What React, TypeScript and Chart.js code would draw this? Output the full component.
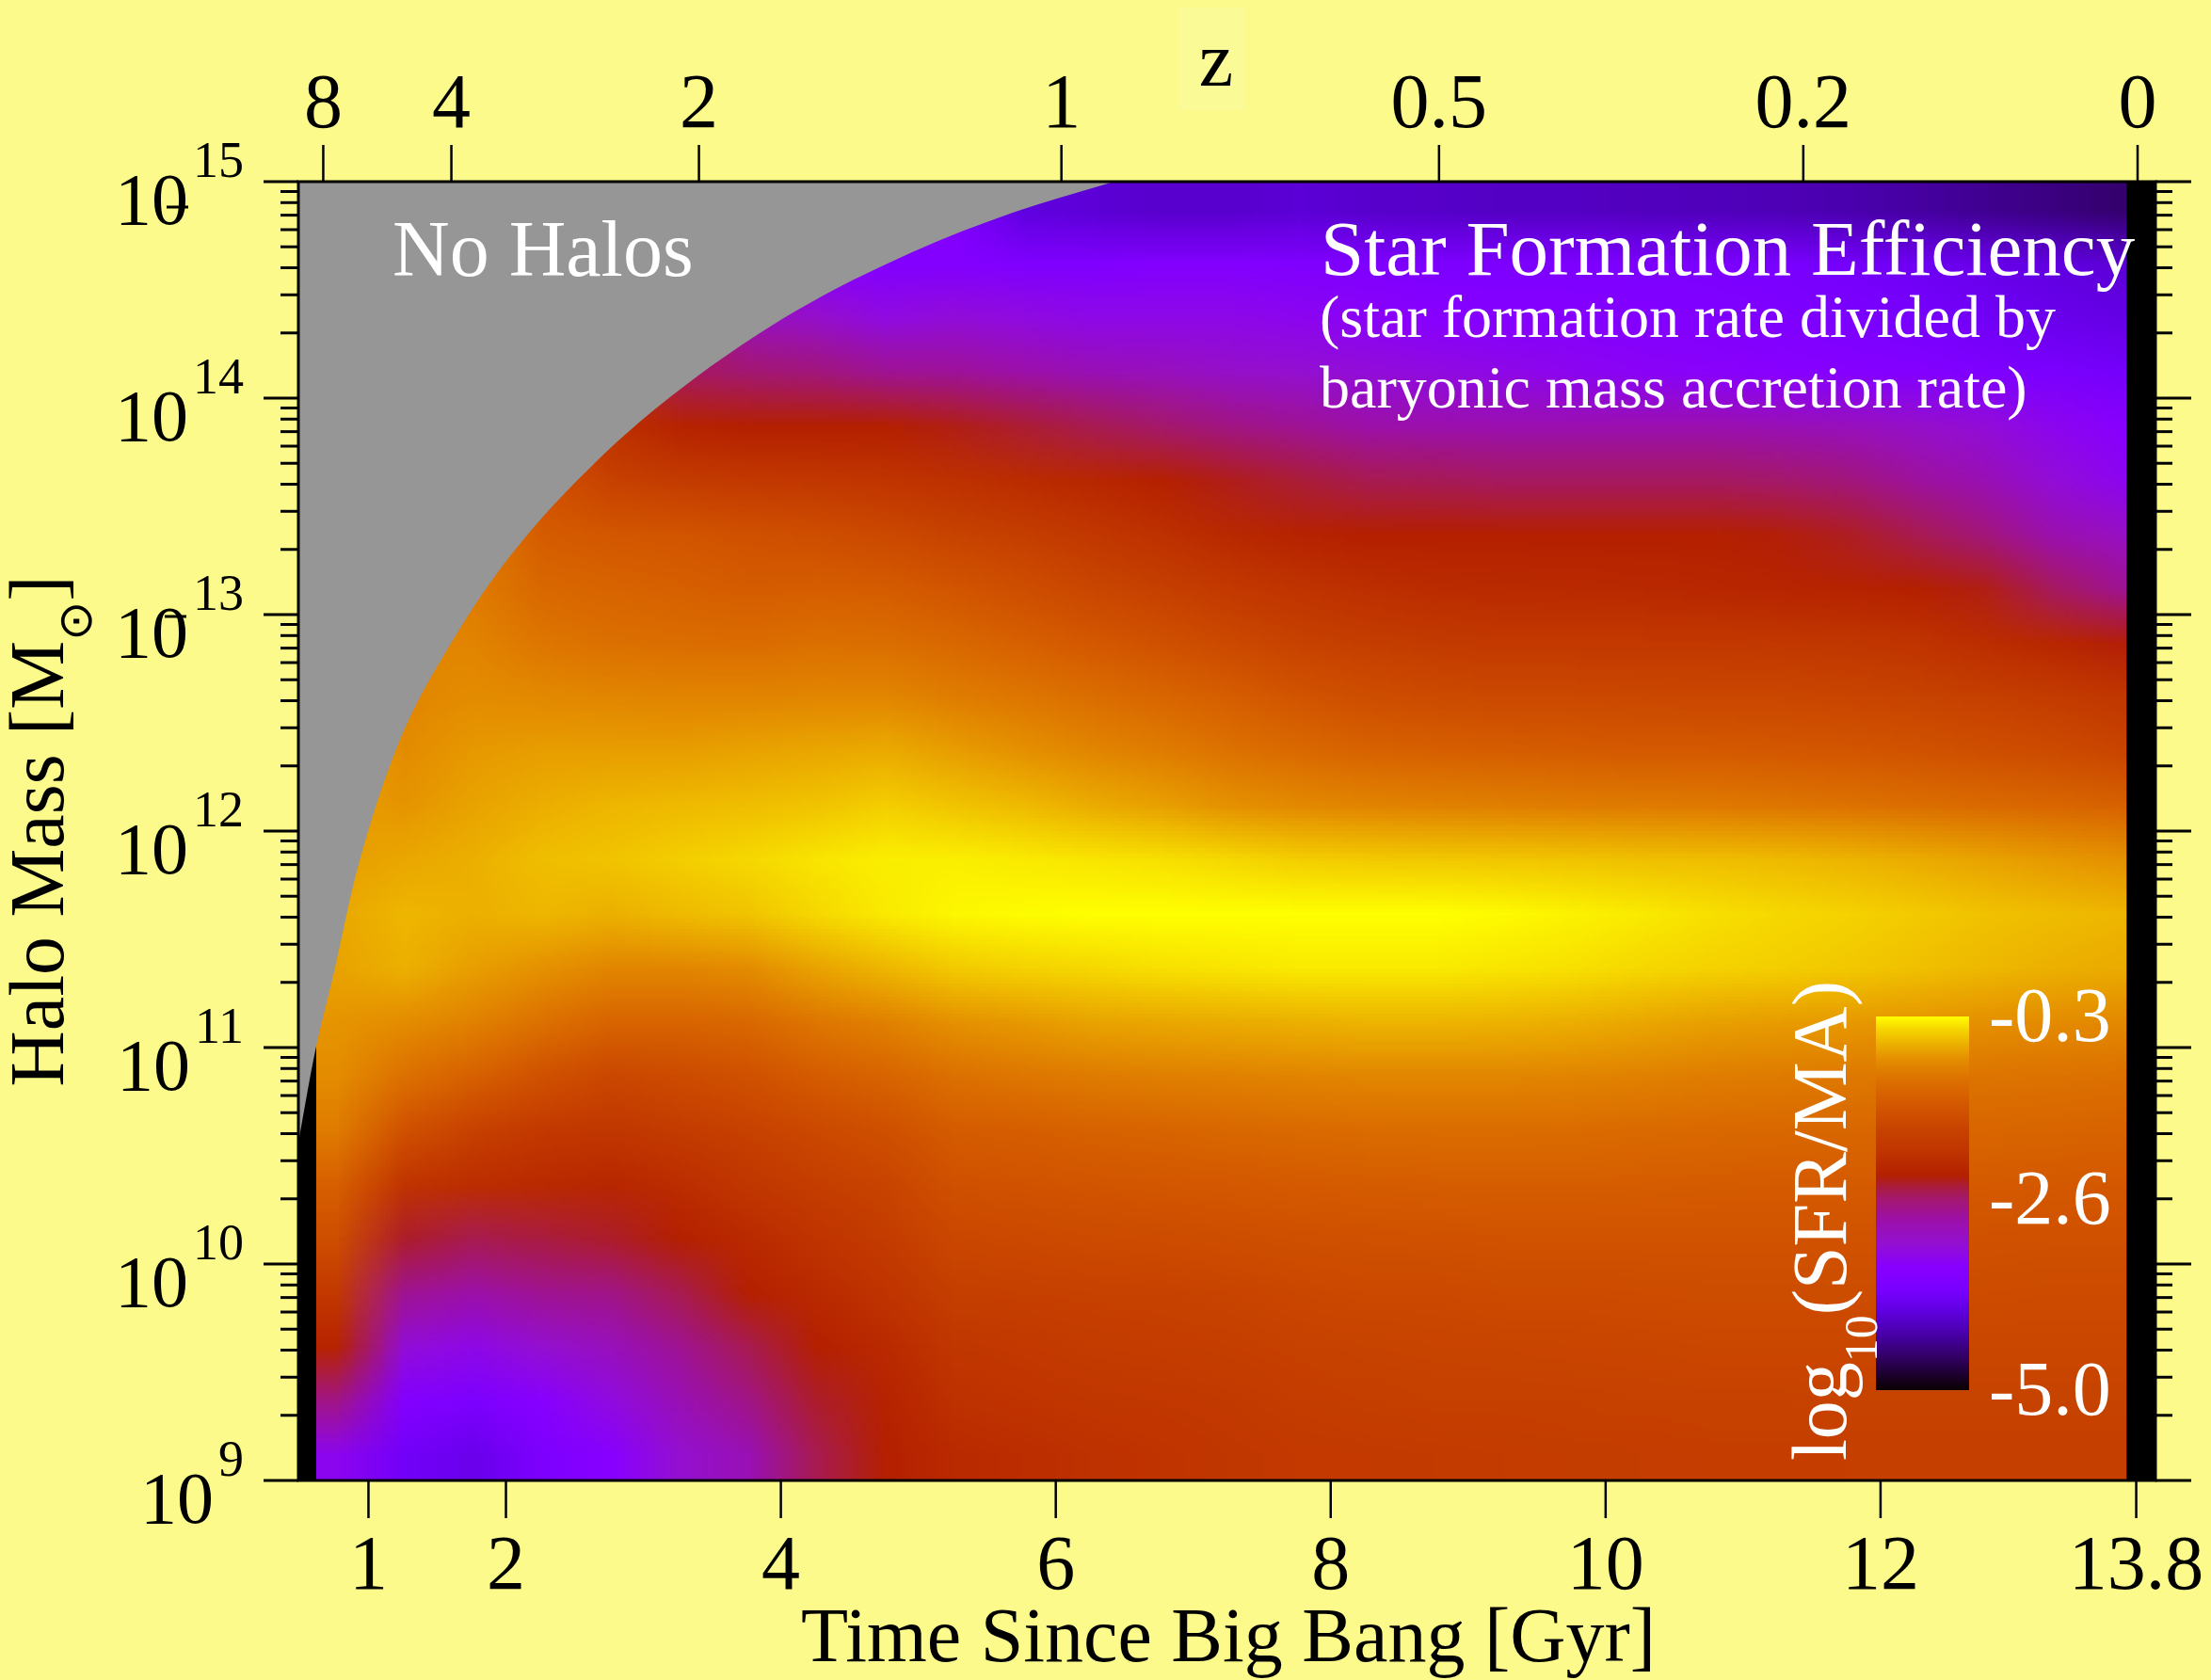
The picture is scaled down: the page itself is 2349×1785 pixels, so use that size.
import React, { useEffect, useRef } from 'react';
import { Chart, registerables } from 'chart.js';

Chart.register(...registerables);

const CANVAS_W = 2349;
const CANVAS_H = 1785;

// ---------------- data ----------------
// heat-map cell centres: time since Big Bang (Gyr), 0.5 Gyr wide cells
const timeCenters = [0.75, 1.25, 1.75, 2.25, 2.75, 3.25, 3.75, 4.25, 4.75, 5.25, 5.75, 6.25, 6.75, 7.25, 7.75, 8.25, 8.75, 9.25, 9.75, 10.25, 10.75, 11.25, 11.75, 12.25, 12.75, 13.25, 13.75];
const cellWidthGyr = 0.5;
// heat-map cell centres: log10 halo mass, 0.25 dex tall cells
const logMassCenters = [9.125, 9.375, 9.625, 9.875, 10.125, 10.375, 10.625, 10.875, 11.125, 11.375, 11.625, 11.875, 12.125, 12.375, 12.625, 12.875, 13.125, 13.375, 13.625, 13.875, 14.125, 14.375, 14.625, 14.875];
const cellHeightDex = 0.25;

const N = null;
// log10(SFR/MA); one list per time column, from low mass (10^9.125) to high mass (10^14.875); null = no halos
const sfeColumns = [
  [-3.35, -2.7, -2.25, -1.9, -1.55, -1.3, -1.0, -0.85, -0.8, -0.72, -0.7, -0.75, N, N, N, N, N, N, N, N, N, N, N, N],
  [-3.8, -3.55, -3.2, -2.75, -2.4, -2.0, -1.5, -1.1, -0.85, -0.65, -0.62, -0.7, -0.8, -0.85, -0.9, N, N, N, N, N, N, N, N, N],
  [-3.9, -3.65, -3.3, -2.85, -2.5, -2.1, -1.75, -1.3, -0.95, -0.75, -0.65, -0.65, -0.72, -0.78, -0.85, -0.92, -1.0, N, N, N, N, N, N, N],
  [-3.65, -3.45, -3.15, -2.75, -2.45, -2.15, -1.9, -1.5, -1.1, -0.82, -0.62, -0.58, -0.66, -0.75, -0.88, -1.05, -1.2, -1.35, -1.5, N, N, N, N, N],
  [-3.45, -3.25, -3.0, -2.7, -2.4, -2.2, -1.95, -1.65, -1.25, -0.9, -0.65, -0.55, -0.62, -0.75, -0.9, -1.1, -1.25, -1.42, -1.75, -2.05, N, N, N, N],
  [-3.15, -2.95, -2.75, -2.5, -2.3, -2.1, -1.85, -1.6, -1.25, -0.9, -0.6, -0.5, -0.6, -0.75, -0.92, -1.12, -1.3, -1.45, -1.85, -2.25, -2.55, N, N, N],
  [-2.95, -2.7, -2.5, -2.3, -2.15, -1.95, -1.75, -1.5, -1.2, -0.85, -0.55, -0.45, -0.58, -0.72, -0.92, -1.15, -1.35, -1.5, -1.9, -2.3, -2.6, -3.0, N, N],
  [-2.5, -2.4, -2.3, -2.15, -2.0, -1.82, -1.62, -1.35, -1.05, -0.72, -0.45, -0.4, -0.55, -0.7, -0.9, -1.1, -1.32, -1.55, -1.92, -2.3, -2.65, -3.1, -3.45, N],
  [-2.3, -2.25, -2.15, -2.0, -1.85, -1.7, -1.52, -1.25, -0.95, -0.62, -0.38, -0.36, -0.5, -0.68, -0.9, -1.12, -1.35, -1.62, -1.98, -2.3, -2.75, -3.25, -3.55, N],
  [-2.15, -2.05, -1.95, -1.8, -1.65, -1.5, -1.35, -1.1, -0.82, -0.52, -0.33, -0.36, -0.55, -0.75, -0.98, -1.2, -1.45, -1.72, -2.05, -2.35, -2.78, -3.2, -3.55, N],
  [-2.1, -2.0, -1.9, -1.78, -1.63, -1.48, -1.32, -1.05, -0.78, -0.48, -0.31, -0.38, -0.6, -0.82, -1.05, -1.3, -1.55, -1.82, -2.12, -2.42, -2.85, -3.25, -3.6, -4.0],
  [-2.05, -1.95, -1.85, -1.75, -1.6, -1.45, -1.28, -1.0, -0.72, -0.45, -0.3, -0.4, -0.67, -0.9, -1.13, -1.4, -1.67, -1.93, -2.2, -2.5, -2.95, -3.3, -3.6, -4.05],
  [-2.0, -1.92, -1.83, -1.73, -1.58, -1.42, -1.25, -0.97, -0.7, -0.42, -0.3, -0.42, -0.74, -0.98, -1.22, -1.5, -1.78, -2.05, -2.28, -2.58, -3.0, -3.3, -3.55, -4.1],
  [-1.95, -1.88, -1.8, -1.7, -1.55, -1.4, -1.2, -0.95, -0.67, -0.4, -0.3, -0.45, -0.82, -1.08, -1.33, -1.62, -1.9, -2.17, -2.36, -2.68, -3.1, -3.3, -3.55, -4.1],
  [-1.9, -1.83, -1.75, -1.65, -1.52, -1.37, -1.17, -0.92, -0.65, -0.38, -0.3, -0.5, -0.88, -1.18, -1.46, -1.74, -2.0, -2.26, -2.43, -2.76, -3.15, -3.35, -3.6, -4.05],
  [-1.88, -1.8, -1.72, -1.63, -1.5, -1.35, -1.15, -0.9, -0.63, -0.38, -0.3, -0.52, -0.92, -1.26, -1.55, -1.82, -2.08, -2.3, -2.5, -2.85, -3.2, -3.4, -3.62, -4.1],
  [-1.86, -1.78, -1.7, -1.62, -1.49, -1.34, -1.14, -0.9, -0.63, -0.38, -0.3, -0.53, -0.95, -1.3, -1.6, -1.87, -2.12, -2.3, -2.52, -2.88, -3.25, -3.45, -3.65, -4.12],
  [-1.85, -1.77, -1.69, -1.6, -1.48, -1.33, -1.14, -0.9, -0.64, -0.4, -0.32, -0.54, -0.97, -1.32, -1.62, -1.9, -2.14, -2.3, -2.55, -2.9, -3.3, -3.5, -3.65, -4.15],
  [-1.84, -1.76, -1.68, -1.59, -1.47, -1.33, -1.15, -0.92, -0.66, -0.42, -0.35, -0.55, -0.99, -1.35, -1.63, -1.9, -2.15, -2.3, -2.55, -2.9, -3.35, -3.5, -3.65, -4.15],
  [-1.83, -1.75, -1.67, -1.58, -1.47, -1.34, -1.17, -0.95, -0.7, -0.45, -0.38, -0.57, -1.0, -1.37, -1.64, -1.9, -2.17, -2.3, -2.55, -2.9, -3.4, -3.55, -3.65, -4.18],
  [-1.82, -1.74, -1.66, -1.57, -1.47, -1.35, -1.19, -0.98, -0.74, -0.48, -0.42, -0.58, -1.02, -1.38, -1.65, -1.9, -2.2, -2.3, -2.55, -2.9, -3.42, -3.58, -3.68, -4.2],
  [-1.81, -1.73, -1.65, -1.57, -1.47, -1.36, -1.2, -1.0, -0.76, -0.5, -0.45, -0.6, -1.05, -1.4, -1.66, -1.92, -2.22, -2.32, -2.58, -2.95, -3.45, -3.62, -3.72, -4.22],
  [-1.8, -1.72, -1.65, -1.57, -1.47, -1.36, -1.21, -1.02, -0.78, -0.53, -0.48, -0.63, -1.08, -1.43, -1.68, -1.95, -2.25, -2.38, -2.65, -3.0, -3.5, -3.68, -3.78, -4.27],
  [-1.8, -1.72, -1.65, -1.57, -1.48, -1.37, -1.22, -1.04, -0.8, -0.57, -0.52, -0.67, -1.12, -1.48, -1.72, -2.0, -2.3, -2.5, -2.8, -3.1, -3.55, -3.75, -3.85, -4.33],
  [-1.8, -1.72, -1.65, -1.58, -1.49, -1.38, -1.23, -1.06, -0.83, -0.61, -0.56, -0.72, -1.17, -1.53, -1.78, -2.1, -2.35, -2.65, -2.95, -3.2, -3.62, -3.82, -3.92, -4.4],
  [-1.8, -1.72, -1.66, -1.59, -1.5, -1.39, -1.24, -1.08, -0.86, -0.65, -0.59, -0.78, -1.22, -1.6, -1.85, -2.2, -2.55, -2.9, -3.2, -3.35, -3.7, -3.9, -4.0, -4.47],
  [-1.8, -1.72, -1.66, -1.6, -1.51, -1.4, -1.26, -1.1, -0.88, -0.68, -0.62, -0.82, -1.28, -1.68, -1.95, -2.32, -2.75, -3.05, -3.35, -3.45, -3.78, -3.95, -4.05, -4.55],
];
// time range actually covered by the model (black outside)
const heatmapStartGyr = 0.62;
const heatmapEndGyr = 13.79;

// upper edge of existing halos ("No Halos" above)
const boundaryTimes = [0.49, 0.605, 0.75, 0.916, 1.207, 1.622, 2.037, 2.66, 3.282, 4.113, 4.943, 5.7, 6.396];
const boundaryLogMass = [10.56, 10.96, 11.35, 11.817, 12.386, 12.89, 13.276, 13.709, 14.048, 14.404, 14.671, 14.86, 14.995];

// axes
const xMin = 0.49;
const xMax = 14.0;
const bottomTickValues = [1, 2, 4, 6, 8, 10, 12, 13.86];
const bottomTickLabels = ['1', '2', '4', '6', '8', '10', '12', '13.8'];
const topTickTimes = [0.671, 1.603, 3.404, 6.041, 8.788, 11.438, 13.87];
const topTickLabels = ['8', '4', '2', '1', '0.5', '0.2', '0'];
const massDecades = [9, 10, 11, 12, 13, 14, 15];
const minorMultipliers = [2, 3, 4, 5, 6, 7, 8, 9];

// colour bar
const colorMin = -5.0;
const colorMax = -0.3;
const colorbarTicks = [-0.3, -2.6, -5.0];
const colorbarLabels = ['-0.3', '-2.6', '-5.0'];
const cmapValues = [-5.0, -4.6, -4.3, -4.0, -3.75, -3.45, -3.15, -2.85, -2.6, -2.45, -2.3, -2.0, -1.7, -1.4, -1.1, -0.85, -0.65, -0.45, -0.3];
const cmapColors = ['#0a0000', '#300060', '#4800a8', '#6000e0', '#7800ff', '#8800ff', '#9410d0', '#9c10a8', '#a41870', '#aa1c40', '#b42000', '#c03400', '#c84400', '#d45800', '#dc7000', '#e48c00', '#ecb000', '#f6d800', '#ffff00'];

// ---------------- styles ----------------
const BG = '#FBFA8B';
const GRAY = '#969696';
const SERIF = '"Liberation Serif", "Times New Roman", "DejaVu Serif", serif';

function hexToRgb(h) {
  const n = parseInt(h.slice(1), 16);
  return [(n >> 16) & 255, (n >> 8) & 255, n & 255];
}
const cmapRgb = cmapColors.map(hexToRgb);

function colorFor(v) {
  if (v <= cmapValues[0]) return cmapRgb[0];
  const last = cmapValues.length - 1;
  if (v >= cmapValues[last]) return cmapRgb[last];
  for (let k = 0; k < last; k++) {
    const a = cmapValues[k], b = cmapValues[k + 1];
    if (v >= a && v <= b) {
      const f = (v - a) / (b - a);
      const c0 = cmapRgb[k], c1 = cmapRgb[k + 1];
      return [0, 1, 2].map((q) => Math.round(c0[q] + (c1[q] - c0[q]) * f));
    }
  }
  return cmapRgb[last];
}

function cellValue(i, j) {
  const col = sfeColumns[i];
  for (let k = j; k >= 0; k--) {
    if (col[k] !== null && col[k] !== undefined) return col[k];
  }
  return colorMin;
}

const heatmapPlugin = {
  id: 'heatmap',
  beforeDraw(chart) {
    const ctx = chart.ctx;
    ctx.save();
    ctx.fillStyle = BG;
    ctx.fillRect(0, 0, chart.width, chart.height);
    ctx.restore();
  },
  beforeDatasetsDraw(chart) {
    const { ctx, chartArea: a } = chart;
    const xs = chart.scales.x;
    const ys = chart.scales.y;
    ctx.save();
    ctx.fillStyle = '#000';
    ctx.fillRect(a.left, a.top, a.right - a.left, a.bottom - a.top);

    const nc = timeCenters.length;
    const nr = logMassCenters.length;
    const off = document.createElement('canvas');
    off.width = nc + 2;
    off.height = nr + 2;
    const octx = off.getContext('2d');
    const img = octx.createImageData(nc + 2, nr + 2);
    for (let px = 0; px < nc + 2; px++) {
      const i = Math.min(nc - 1, Math.max(0, px - 1));
      for (let py = 0; py < nr + 2; py++) {
        const j = Math.min(nr - 1, Math.max(0, nr - py));
        const c = colorFor(cellValue(i, j));
        const idx = (py * (nc + 2) + px) * 4;
        img.data[idx] = c[0];
        img.data[idx + 1] = c[1];
        img.data[idx + 2] = c[2];
        img.data[idx + 3] = 255;
      }
    }
    octx.putImageData(img, 0, 0);

    const tLeft = timeCenters[0] - 1.5 * cellWidthGyr;
    const tRight = timeCenters[nc - 1] + 1.5 * cellWidthGyr;
    const mTop = Math.pow(10, logMassCenters[nr - 1] + 1.5 * cellHeightDex);
    const mBottom = Math.pow(10, logMassCenters[0] - 1.5 * cellHeightDex);
    const x0 = xs.getPixelForValue(tLeft);
    const x1 = xs.getPixelForValue(tRight);
    const y0 = ys.getPixelForValue(mTop);
    const y1 = ys.getPixelForValue(mBottom);

    const cx0 = xs.getPixelForValue(heatmapStartGyr);
    const cx1 = xs.getPixelForValue(heatmapEndGyr);
    ctx.beginPath();
    ctx.rect(cx0, a.top, cx1 - cx0, a.bottom - a.top);
    ctx.clip();
    ctx.imageSmoothingEnabled = true;
    ctx.drawImage(off, x0, y0, x1 - x0, y1 - y0);
    ctx.restore();
  },
};

function drawParts(ctx, parts, align) {
  ctx.textAlign = 'left';
  ctx.textBaseline = 'alphabetic';
  let total = 0;
  const widths = parts.map((p) => {
    ctx.font = p.font;
    const w = ctx.measureText(p.text).width;
    total += w;
    return w;
  });
  let x = align === 'center' ? -total / 2 : align === 'right' ? -total : 0;
  parts.forEach((p, k) => {
    ctx.font = p.font;
    ctx.fillText(p.text, x, p.dy || 0);
    x += widths[k];
  });
}

const decorPlugin = {
  id: 'decor',
  afterDatasetsDraw(chart) {
    const { ctx } = chart;
    ctx.save();
    ctx.fillStyle = '#ffffff';
    ctx.textBaseline = 'alphabetic';
    ctx.textAlign = 'left';
    ctx.font = `84px ${SERIF}`;
    ctx.fillText('No Halos', 417, 293);
    ctx.font = `83px ${SERIF}`;
    ctx.fillText('Star Formation Efficiency', 1403, 292);
    ctx.font = `64px ${SERIF}`;
    ctx.fillText('(star formation rate divided by', 1402, 358);
    ctx.fillText('baryonic mass accretion rate)', 1402, 433);

    // colour bar
    const cbLeft = 1993, cbRight = 2092, cbTop = 1080, cbBottom = 1477;
    const grad = ctx.createLinearGradient(0, cbTop, 0, cbBottom);
    cmapValues.forEach((v, k) => {
      grad.addColorStop((colorMax - v) / (colorMax - colorMin), cmapColors[k]);
    });
    ctx.fillStyle = grad;
    ctx.fillRect(cbLeft, cbTop, cbRight - cbLeft, cbBottom - cbTop);

    ctx.fillStyle = '#ffffff';
    ctx.font = `82px ${SERIF}`;
    colorbarTicks.forEach((v, k) => {
      const y = cbTop + ((colorMax - v) / (colorMax - colorMin)) * (cbBottom - cbTop);
      ctx.fillText(colorbarLabels[k], 2113, y + 26);
    });

    ctx.save();
    ctx.translate(1961, 1297);
    ctx.rotate(-Math.PI / 2);
    drawParts(ctx, [
      { text: 'log', font: `82px ${SERIF}` },
      { text: '10', font: `50px ${SERIF}`, dy: 33 },
      { text: '(SFR/MA)', font: `82px ${SERIF}` },
    ], 'center');
    ctx.restore();
    ctx.restore();
  },
  afterDraw(chart) {
    const { ctx, chartArea: a } = chart;
    const xs = chart.scales.x;
    const ys = chart.scales.y;
    ctx.save();
    ctx.strokeStyle = '#000';
    ctx.fillStyle = '#000';
    ctx.lineCap = 'butt';

    const seg = (xa, ya, xb, yb, w) => {
      ctx.lineWidth = w;
      ctx.beginPath();
      ctx.moveTo(xa, ya);
      ctx.lineTo(xb, yb);
      ctx.stroke();
    };

    // frame
    ctx.lineWidth = 3;
    ctx.strokeRect(a.left, a.top, a.right - a.left, a.bottom - a.top);

    // mass ticks (left and right)
    massDecades.forEach((d) => {
      const y = ys.getPixelForValue(Math.pow(10, d));
      seg(a.left - 37, y, a.left, y, 3);
      seg(a.right, y, a.right + 38, y, 3);
      if (d < 15) {
        minorMultipliers.forEach((m) => {
          const ym = ys.getPixelForValue(m * Math.pow(10, d));
          seg(a.left - 19, ym, a.left, ym, 3);
          seg(a.right, ym, a.right + 18, ym, 3);
        });
      }
    });

    // mass tick labels 10^n
    ctx.textBaseline = 'alphabetic';
    ctx.textAlign = 'right';
    massDecades.forEach((d) => {
      const y = ys.getPixelForValue(Math.pow(10, d));
      ctx.font = `54px ${SERIF}`;
      const exp = String(d);
      const w = ctx.measureText(exp).width;
      ctx.fillText(exp, 259, y - 5);
      ctx.font = `78px ${SERIF}`;
      ctx.fillText('10', 259 - w - 5, y + 45);
    });
    // stray dashes printed over two of the labels in the original
    seg(177, ys.getPixelForValue(1e15) + 27, 200, ys.getPixelForValue(1e15) + 27, 3);
    seg(175, ys.getPixelForValue(1e13) + 2, 198, ys.getPixelForValue(1e13) + 2, 3);

    // bottom (time) ticks
    ctx.textAlign = 'center';
    ctx.font = `82px ${SERIF}`;
    bottomTickValues.forEach((t, k) => {
      const x = xs.getPixelForValue(t);
      seg(x, a.bottom, x, a.bottom + 40, 2.5);
      ctx.fillText(bottomTickLabels[k], x, 1688);
    });

    // top (redshift) ticks
    topTickTimes.forEach((t, k) => {
      const x = xs.getPixelForValue(t);
      seg(x, a.top, x, a.top - 39, 2.5);
      ctx.fillText(topTickLabels[k], x, 135);
    });

    // z label with light box
    ctx.fillStyle = '#FAFA97';
    ctx.fillRect(1252, 8, 71, 109);
    ctx.fillStyle = '#000';
    ctx.font = `82px ${SERIF}`;
    ctx.fillText('z', 1292, 91);

    // x title
    ctx.fillText('Time Since Big Bang [Gyr]', 1305, 1765);

    // y title
    ctx.save();
    ctx.translate(67, 883);
    ctx.rotate(-Math.PI / 2);
    drawParts(ctx, [
      { text: 'Halo Mass [M', font: `82px ${SERIF}` },
      { text: '\u2299', font: `50px "DejaVu Sans", ${SERIF}`, dy: 30 },
      { text: ']', font: `82px ${SERIF}` },
    ], 'center');
    ctx.restore();

    ctx.restore();
  },
};

export default function App() {
  const canvasRef = useRef(null);
  useEffect(() => {
    const canvas = canvasRef.current;
    if (!canvas) return;
    const boundary = boundaryTimes.map((t, i) => ({ x: t, y: Math.pow(10, boundaryLogMass[i]) }));
    const chart = new Chart(canvas, {
      type: 'line',
      data: {
        datasets: [
          {
            label: 'No Halos',
            data: boundary,
            fill: 'end',
            backgroundColor: GRAY,
            borderColor: 'rgba(0,0,0,0)',
            borderWidth: 0,
            pointRadius: 0,
            cubicInterpolationMode: 'monotone',
          },
        ],
      },
      options: {
        responsive: false,
        animation: false,
        devicePixelRatio: 1,
        layout: { padding: { left: 317, top: 193, right: CANVAS_W - 2290, bottom: CANVAS_H - 1573 } },
        plugins: { legend: { display: false }, tooltip: { enabled: false } },
        scales: {
          x: { type: 'linear', min: xMin, max: xMax, display: false },
          y: { type: 'logarithmic', min: 1e9, max: 1e15, display: false },
        },
      },
      plugins: [heatmapPlugin, decorPlugin],
    });
    return () => chart.destroy();
  }, []);
  return (
    <div style={{ position: 'fixed', left: 0, top: 0, width: CANVAS_W, height: CANVAS_H, overflow: 'hidden' }}>
      <canvas ref={canvasRef} width={CANVAS_W} height={CANVAS_H} style={{ display: 'block', width: CANVAS_W, height: CANVAS_H }} />
    </div>
  );
}
